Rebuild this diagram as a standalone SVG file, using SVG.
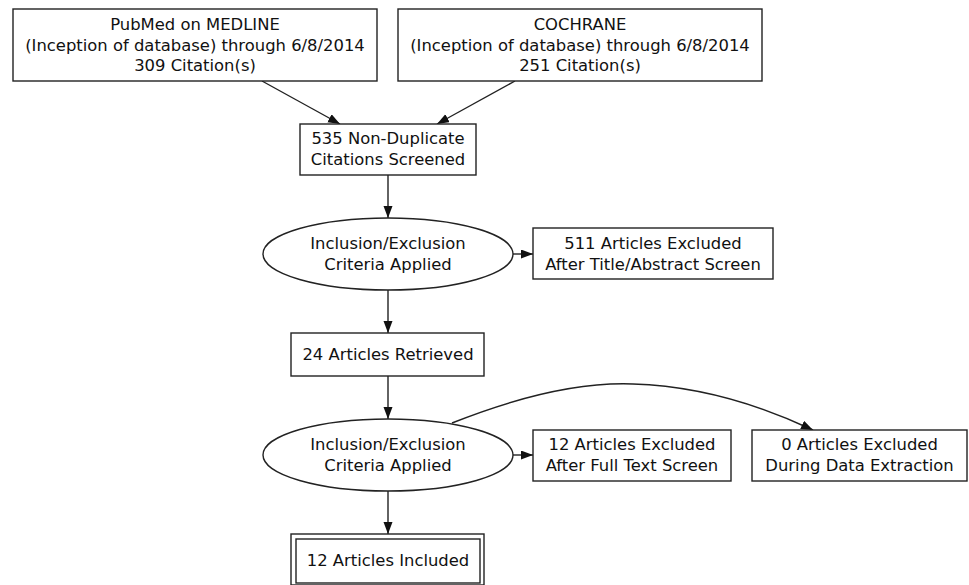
<svg xmlns="http://www.w3.org/2000/svg" width="969" height="585" viewBox="0 0 969 585">
<style>
.n rect, .n ellipse { fill: #fff; stroke: #222; stroke-width: 1.4; }
.n text { font-family: "DejaVu Sans", sans-serif; font-size: 16.4px; fill: #111; text-anchor: middle; }
.e path, .e line { fill: none; stroke: #222; stroke-width: 1.4; marker-end: url(#ah); }
</style>
<defs>
<marker id="ah" markerUnits="userSpaceOnUse" markerWidth="13" markerHeight="10" refX="12" refY="4.5" orient="auto">
<path d="M0,0 L12,4.5 L0,9 Z" fill="#111"/>
</marker>
</defs>
<rect width="969" height="585" fill="#fff"/>
<g class="e" id="connectors">
<line x1="262" y1="81" x2="340" y2="124"/>
<line x1="515" y1="81" x2="437" y2="124"/>
<line x1="388" y1="175" x2="388" y2="218"/>
<line x1="513" y1="254" x2="533" y2="254"/>
<line x1="388" y1="289" x2="388" y2="333"/>
<line x1="388" y1="376" x2="388" y2="419"/>
<line x1="513" y1="455" x2="533" y2="455"/>
<path d="M452,423 C520,396 580,382 633,384 C700,386 760,405 813,430"/>
<line x1="388" y1="491" x2="388" y2="534"/>
</g>
<g class="n" id="pubmed">
<rect x="13" y="9" width="364" height="72"/>
<text x="195" y="30">PubMed on MEDLINE</text>
<text x="195" y="51">(Inception of database) through 6/8/2014</text>
<text x="195" y="71">309 Citation(s)</text>
</g>
<g class="n" id="cochrane">
<rect x="398" y="9" width="364" height="72"/>
<text x="580" y="30">COCHRANE</text>
<text x="580" y="51">(Inception of database) through 6/8/2014</text>
<text x="580" y="71">251 Citation(s)</text>
</g>
<g class="n" id="screened">
<rect x="300" y="124" width="176" height="51"/>
<text x="388" y="144">535 Non-Duplicate</text>
<text x="388" y="165">Citations Screened</text>
</g>
<g class="n" id="criteria1">
<ellipse cx="388" cy="254" rx="125" ry="36"/>
<text x="388" y="249">Inclusion/Exclusion</text>
<text x="388" y="270">Criteria Applied</text>
</g>
<g class="n" id="excluded511">
<rect x="533" y="228" width="240" height="51"/>
<text x="653" y="249">511 Articles Excluded</text>
<text x="653" y="270">After Title/Abstract Screen</text>
</g>
<g class="n" id="retrieved">
<rect x="291" y="333" width="193" height="43"/>
<text x="388" y="360">24 Articles Retrieved</text>
</g>
<g class="n" id="criteria2">
<ellipse cx="388" cy="455" rx="125" ry="36"/>
<text x="388" y="450">Inclusion/Exclusion</text>
<text x="388" y="471">Criteria Applied</text>
</g>
<g class="n" id="excluded12">
<rect x="533" y="430" width="198" height="51"/>
<text x="632" y="450">12 Articles Excluded</text>
<text x="632" y="471">After Full Text Screen</text>
</g>
<g class="n" id="excluded0">
<rect x="752" y="430" width="215" height="51"/>
<text x="859.5" y="450">0 Articles Excluded</text>
<text x="859.5" y="471">During Data Extraction</text>
</g>
<g class="n" id="included">
<rect x="291" y="534" width="193" height="51"/>
<rect x="296" y="539" width="184" height="44"/>
<text x="388" y="566">12 Articles Included</text>
</g>
</svg>
